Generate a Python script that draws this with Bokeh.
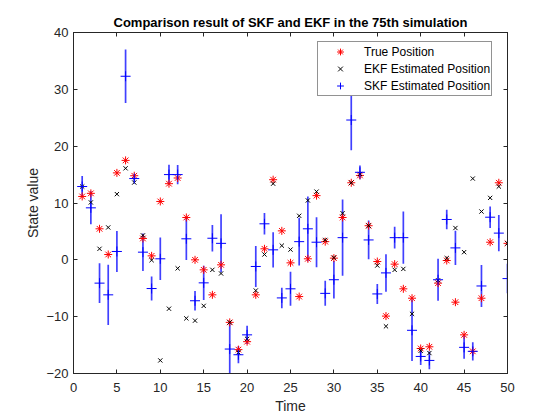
from bokeh.plotting import figure
from bokeh.models import Range1d, LinearAxis, FixedTicker, Legend, LegendItem, ColumnDataSource
from bokeh.embed import file_html
from bokeh.resources import INLINE

# ---- data ----
time = list(range(1, 51))
true_pos = [11.15, 11.7, 5.46, 0.94, 15.3, 17.5, 14.8, 3.76, 0.7, 10.27,
            13.4, 14.4, 7.45, 0.0, -1.76, -6.16, -0.88, -11.0, -15.8, -14.4,
            -6.16, 1.94, 14.1, 5.1, -0.53, -6.46, 0.18, 11.3, 3.2, 0.3,
            7.45, 13.56, 14.85, 6.0, -0.3, -9.9, -0.76, -5.1, -6.75, -15.6,
            -15.3, -4.1, -0.12, -7.45, -13.2, -16.1, -6.75, 3.1, 13.56, 2.9]
ekf_pos = [12.9, 10.1, 1.94, 5.7, 11.56, 16.1, 13.6, 4.3, -0.06, -17.7,
           -8.6, -1.5, -10.3, -10.7, -8.1, -1.76, -2.4, -11.0, -16.3, -13.9,
           -5.4, 0.94, 13.4, 2.5, 1.8, 7.75, 10.45, 12.0, 3.5, 0.4,
           8.2, 13.56, 15.1, 6.0, -1.0, -11.7, -1.76, -1.6, -9.5, -16.0,
           -16.4, -3.6, 0.3, 5.6, 1.35, 14.3, 8.5, 10.9, 12.9, 2.9]
skf_pos = [12.9, 9.15, -4.1, -6.16, 1.47, 32.3, 14.3, 1.35, -5.05, 0.18,
           15.0, 15.0, 3.7, -7.2, -4.05, 3.8, 2.9, -15.7, -16.7, -13.2,
           -1.17, 6.34, 1.76, -6.7, -5.1, 3.2, 5.46, 3.1, -5.9, -3.5,
           3.9, 24.6, 15.4, 3.5, -6.0, -2.3, 3.9, 3.9, -12.4, -17.0,
           -17.7, -3.5, 7.1, 2.1, -15.4, -16.1, -4.6, 7.5, 4.7, -3.3]
skf_err = [1.85, 2.9, 3.5, 5.3, 3.6, 4.7, 0.5, 3.3, 2.1, 3.75,
           1.75, 1.7, 3.75, 1.7, 3.0, 2.35, 5.1, 4.6, 1.5, 1.6,
           3.6, 1.9, 3.1, 1.8, 3.0, 4.2, 5.7, 4.4, 2.2, 3.3,
           6.7, 5.3, 1.2, 3.4, 1.76, 3.3, 1.9, 4.6, 5.4, 1.5,
           1.55, 3.7, 1.7, 3.0, 2.0, 1.6, 3.7, 1.9, 3.2, 2.6]
x_ticks = list(range(0, 51, 5))
y_ticks = list(range(-20, 41, 10))

TXT = "#262626"
FONT = "Liberation Sans"

src = ColumnDataSource(dict(
    t=time, true=true_pos, ekf=ekf_pos, skf=skf_pos,
    lo=[v - e for v, e in zip(skf_pos, skf_err)],
    hi=[v + e for v, e in zip(skf_pos, skf_err)],
))

p = figure(width=544, height=418, output_backend="svg", toolbar_location=None,
           x_range=Range1d(0, 50), y_range=Range1d(-20, 40),
           min_border_left=73, min_border_right=37, min_border_top=32, min_border_bottom=45,
           title="Comparison result of SKF and EKF in the 75th simulation")
p.title.align = "center"
p.title.text_font = FONT
p.title.text_font_size = "13px"
p.title.text_font_style = "bold"
p.title.text_color = "black"
p.title.standoff = 5

p.grid.visible = False
p.outline_line_color = TXT
p.outline_line_width = 1
p.outline_line_alpha = 1

for ax in (p.xaxis[0], p.yaxis[0]):
    ax.axis_line_color = TXT
    ax.major_tick_line_color = TXT
    ax.major_tick_in = 4
    ax.major_tick_out = 0
    ax.minor_tick_line_color = None
    ax.major_label_text_font = FONT
    ax.major_label_text_font_size = "13px"
    ax.major_label_text_color = TXT
    ax.axis_label_text_font = FONT
    ax.axis_label_text_font_size = "14px"
    ax.axis_label_text_font_style = "normal"
    ax.axis_label_text_color = TXT
p.xaxis.ticker = FixedTicker(ticks=x_ticks)
p.yaxis.ticker = FixedTicker(ticks=y_ticks)
p.xaxis.axis_label = "Time"
p.yaxis.axis_label = "State value"
p.xaxis.major_label_standoff = 9
p.xaxis.axis_label_standoff = 3
p.yaxis.major_label_standoff = 5
p.yaxis.axis_label_standoff = 2

# mirrored ticks on top and right (labels not drawn)
top = LinearAxis(ticker=FixedTicker(ticks=x_ticks), major_label_text_font_size="1px",
                 major_label_text_color=None,
                 major_tick_in=4, major_tick_out=0, minor_tick_line_color=None,
                 axis_line_color=TXT, major_tick_line_color=TXT, major_label_standoff=0)
right = LinearAxis(ticker=FixedTicker(ticks=y_ticks), major_label_text_font_size="1px",
                   major_label_text_color=None,
                   major_tick_in=4, major_tick_out=0, minor_tick_line_color=None,
                   axis_line_color=TXT, major_tick_line_color=TXT, major_label_standoff=0)
p.add_layout(top, "above")
p.add_layout(right, "right")

# error bars (SKF)
p.segment(x0="t", y0="lo", x1="t", y1="hi", source=src, line_color="#0000FF",
          line_width=1.7, line_alpha=0.75)

r_true = p.scatter("t", "true", source=src, marker="asterisk", size=8,
                   line_color="#FF0000", line_width=1)
r_ekf = p.scatter("t", "ekf", source=src, marker="x", size=6,
                  line_color="black", line_width=1)
r_skf = p.scatter("t", "skf", source=src, marker="cross", size=10,
                  line_color="#0000FF", line_width=1)

legend = Legend(items=[
    LegendItem(label="True Position", renderers=[r_true]),
    LegendItem(label="EKF Estimated Position", renderers=[r_ekf]),
    LegendItem(label="SKF Estimated Position", renderers=[r_skf]),
], location=(244, 277))
legend.label_text_font = FONT
legend.label_text_font_size = "12px"
legend.label_text_color = "black"
legend.glyph_width = 42
legend.glyph_height = 17
legend.label_height = 17
legend.label_standoff = 3
legend.spacing = 0
legend.padding = 1
legend.margin = 0
legend.border_line_color = TXT
legend.border_line_width = 1
legend.background_fill_color = "white"
legend.background_fill_alpha = 1
p.add_layout(legend, "center")

open("out.html", "w").write(file_html(p, INLINE))
